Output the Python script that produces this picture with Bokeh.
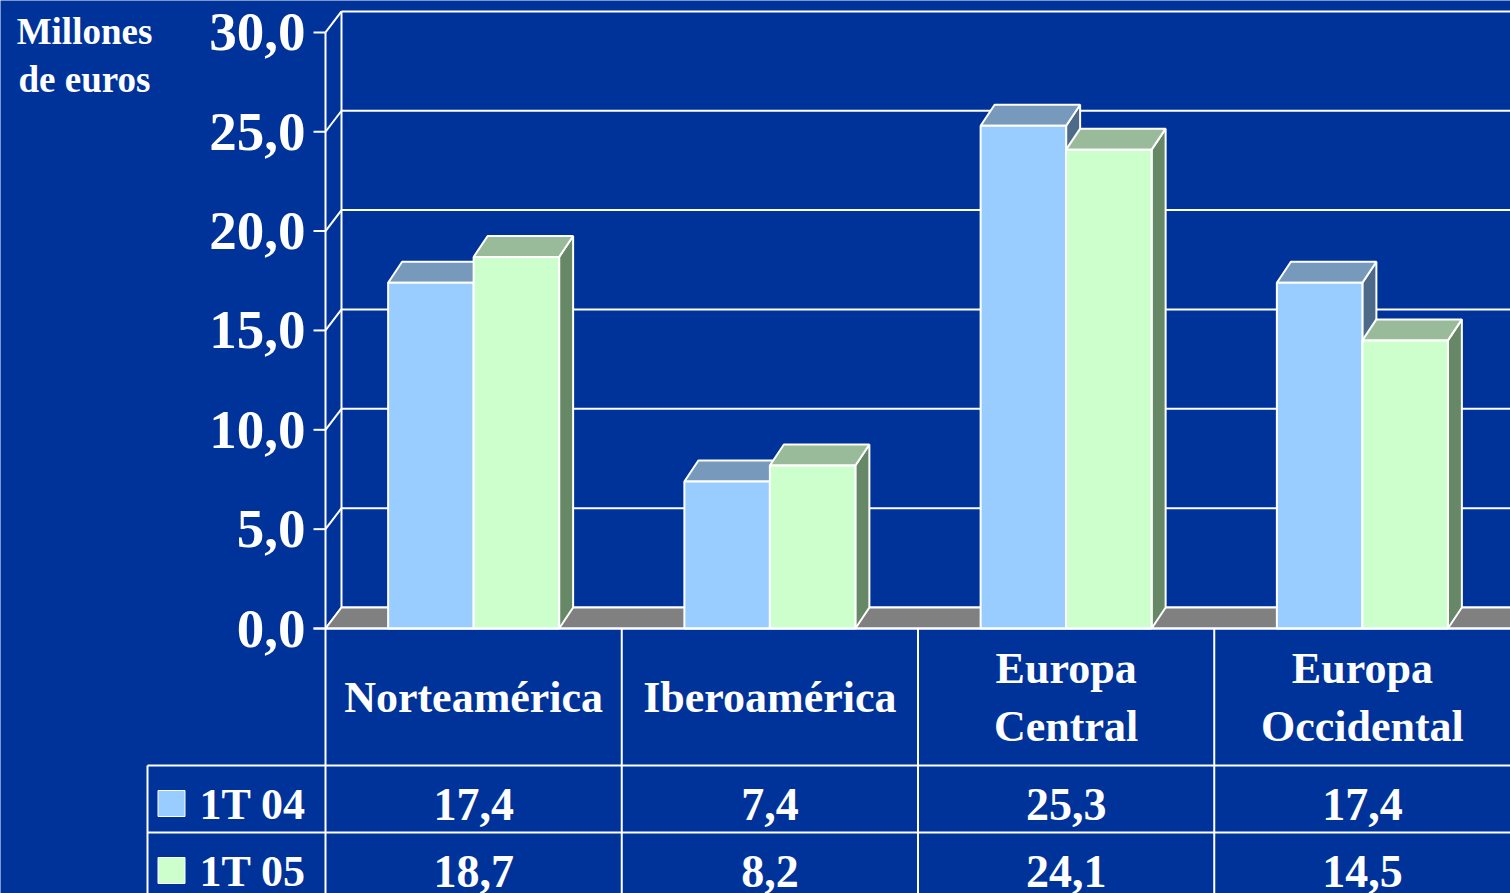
from bokeh.plotting import figure
from bokeh.models import Range1d
from bokeh.core.properties import value
from bokeh.embed import file_html
from bokeh.resources import INLINE

# ---- data ----
categories = ["Norteamérica", "Iberoamérica", "Europa\nCentral", "Europa\nOccidental"]
series_names = ["1T 04", "1T 05"]
values_1t04 = [17.4, 7.4, 25.3, 17.4]
values_1t05 = [18.7, 8.2, 24.1, 14.5]
y_ticks = [0, 5, 10, 15, 20, 25, 30]
y_title = "Millones\nde euros"

def fmt(v):
    return f"{v:.1f}".replace(".", ",")

tick_labels = [fmt(v) for v in y_ticks]

# ---- layout (pixel geometry mapped to data units) ----
WIDTH, HEIGHT = 1510, 893
X0_PX, Y0_PX = 325, 628          # front origin in pixels
CAT_PX = 296.25                  # px per category
VAL_PX = 19.87                   # px per value unit

def ux(px):
    return px / CAT_PX

def uy(px):
    return px / VAL_PX

def X(px):
    return (px - X0_PX) / CAT_PX

def Y(py):
    return (Y0_PX - py) / VAL_PX

BG = "#003399"
WHITE = "white"
FONT = value("Liberation Serif")

p = figure(width=WIDTH, height=HEIGHT, output_backend="svg", toolbar_location=None,
           x_range=Range1d(X(0), X(WIDTH)), y_range=Range1d(Y(HEIGHT), Y(0)),
           min_border=0, background_fill_color=BG, border_fill_color=BG)
p.xaxis.visible = False
p.yaxis.visible = False
p.grid.visible = False
p.outline_line_color = None

xmax = X(WIDTH) + 0.1
ymax_tick = max(y_ticks)

# wall depth
WDX, WDY = ux(16), uy(21)
# bar depth
BDX, BDY = ux(14), uy(21)
BAR_W = ux(85.5)

# back wall gridlines
p.segment(x0=[WDX] * len(y_ticks), y0=[v + WDY for v in y_ticks],
          x1=[xmax] * len(y_ticks), y1=[v + WDY for v in y_ticks],
          line_color=WHITE, line_width=2)
# left wall
p.segment(x0=[0] * len(y_ticks), y0=y_ticks,
          x1=[WDX] * len(y_ticks), y1=[v + WDY for v in y_ticks],
          line_color=WHITE, line_width=2)
p.segment(x0=[WDX], y0=[WDY], x1=[WDX], y1=[ymax_tick + WDY], line_color=WHITE, line_width=2)

# floor
p.patch(x=[0, WDX, xmax, xmax], y=[0, WDY, WDY, 0], fill_color="#808080",
        line_color=WHITE, line_width=2)

# front axis and ticks
p.segment(x0=[0], y0=[0], x1=[0], y1=[ymax_tick], line_color=WHITE, line_width=2)
p.segment(x0=[X(313)] * len(y_ticks), y0=y_ticks, x1=[0] * len(y_ticks), y1=y_ticks,
          line_color=WHITE, line_width=2)
p.text(x=[X(305)] * len(y_ticks), y=y_ticks, text=tick_labels, text_font=FONT,
       text_font_style="bold", text_font_size="55px", text_color=WHITE,
       text_align="right", text_baseline="middle")

# y title
p.text(x=[X(84)], y=[Y(55)], text=[y_title], text_font=FONT, text_font_style="bold",
       text_font_size="37px", text_color=WHITE, text_align="center",
       text_baseline="middle", text_line_height=1.15)

# bars
series = [
    (values_1t04, -1, "#99CCFF", "#7799BB", "#4D6A88"),
    (values_1t05, 0, "#CCFFCC", "#99BB99", "#668866"),
]
for vals, off, front, top, side in series:
    lefts = [i + 0.5 + off * BAR_W for i in range(len(categories))]
    rights = [l + BAR_W for l in lefts]
    side_xs = [[r, r + BDX, r + BDX, r] for r in rights]
    side_ys = [[0, BDY, v + BDY, v] for v in vals]
    top_xs = [[l, l + BDX, r + BDX, r] for l, r in zip(lefts, rights)]
    top_ys = [[v, v + BDY, v + BDY, v] for v in vals]
    p.patches(xs=side_xs, ys=side_ys, fill_color=side, line_color=WHITE, line_width=2)
    p.patches(xs=top_xs, ys=top_ys, fill_color=top, line_color=WHITE, line_width=2)
    p.quad(left=lefts, right=rights, bottom=[0] * len(vals), top=vals,
           fill_color=front, line_color=WHITE, line_width=2)

# ---- table ----
n = len(categories)
row1_top, row2_top = Y(765), Y(832)
ybot = Y(HEIGHT) - 1
# horizontal lines
p.segment(x0=[X(313), X(147), X(147)], y0=[0, row1_top, row2_top],
          x1=[xmax, xmax, xmax], y1=[0, row1_top, row2_top], line_color=WHITE, line_width=2)
# vertical lines
p.segment(x0=list(range(n)), y0=[0] * n, x1=list(range(n)), y1=[ybot] * n,
          line_color=WHITE, line_width=2)
p.segment(x0=[X(147)], y0=[row1_top], x1=[X(147)], y1=[ybot], line_color=WHITE, line_width=2)

# category labels
p.text(x=[i + 0.5 for i in range(n)], y=[Y(697)] * n, text=categories, text_font=FONT,
       text_font_style="bold", text_font_size="44px", text_color=WHITE,
       text_align="center", text_baseline="middle", text_line_height=1.2)

# values
row_y = [Y(804), Y(871)]
for vals, ry in zip([values_1t04, values_1t05], row_y):
    p.text(x=[i + 0.5 for i in range(n)], y=[ry] * n, text=[fmt(v) for v in vals],
           text_font=FONT, text_font_style="bold", text_font_size="46px",
           text_color=WHITE, text_align="center", text_baseline="middle")

# legend keys
key_colors = ["#99CCFF", "#CCFFCC"]
p.rect(x=[X(171)] * 2, y=[ry + uy(1) for ry in row_y], width=ux(27), height=uy(26),
       fill_color=key_colors, line_color=WHITE, line_width=1)
p.text(x=[X(199)] * 2, y=row_y, text=series_names, text_font=FONT, text_font_style="bold",
       text_font_size="44px", text_color=WHITE, text_align="left", text_baseline="middle")

open("out.html", "w").write(file_html(p, INLINE))
